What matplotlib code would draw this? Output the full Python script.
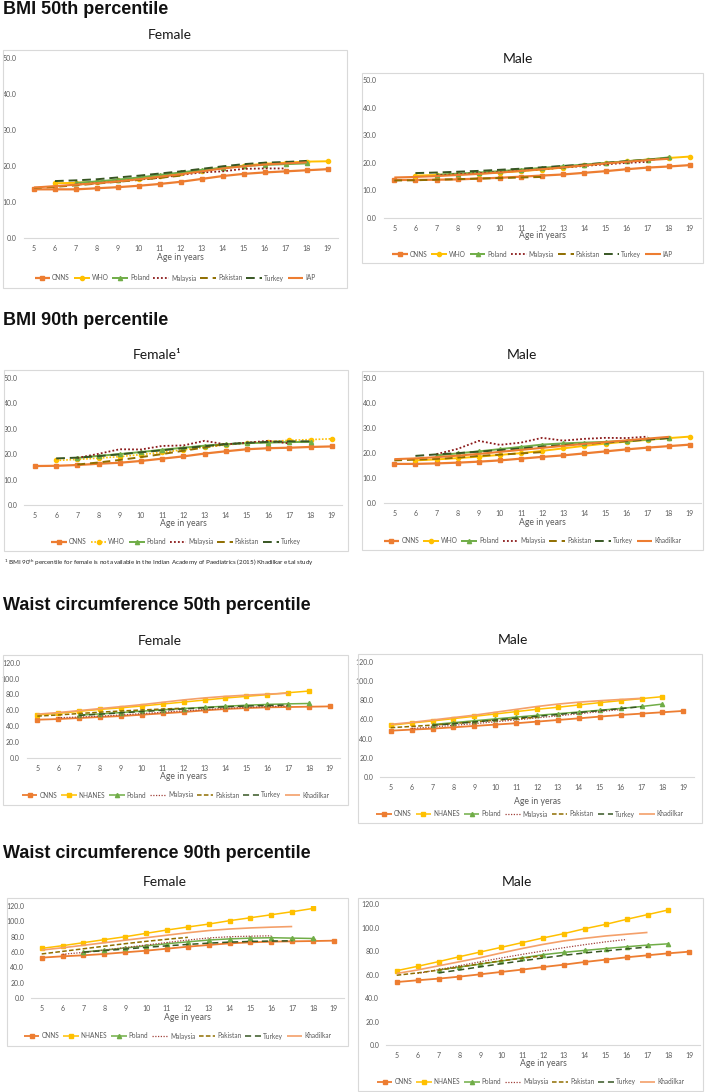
import numpy as np
import matplotlib
matplotlib.use("Agg")
import matplotlib.pyplot as plt
from matplotlib.patches import Rectangle

plt.rcParams['font.family'] = ['Lato', 'DejaVu Sans']
plt.rcParams['mathtext.fontset'] = 'custom'
plt.rcParams['mathtext.rm'] = 'Lato'

# ---------------- data ----------------
AGES = list(range(5, 20))
N = None

# BMI 50th percentile - Female
bmi50_f_cnns = [13.6, 13.6, 13.6, 13.9, 14.2, 14.6, 15.1, 15.7, 16.5, 17.3, 17.9, 18.3, 18.6, 18.9, 19.2]
bmi50_f_who = [N, 15.3, 15.4, 15.7, 16.1, 16.6, 17.2, 18.0, 18.8, 19.6, 20.2, 20.7, 21.0, 21.3, 21.4]
bmi50_f_poland = [N, N, 15.4, 15.8, 16.3, 16.9, 17.6, 18.3, 19.0, 19.6, 20.1, 20.4, 20.6, 20.8, N]
bmi50_f_malaysia = [N, N, 14.9, 15.3, 15.8, 16.3, 16.8, 17.6, 18.3, 18.6, 19.3, 19.4, 19.4, N, N]
bmi50_f_pakistan = [14.0, 14.3, 14.7, 15.2, 15.7, 16.2, 16.8, 17.4, N, N, N, N, N, N, N]
bmi50_f_turkey = [N, 15.9, 16.1, 16.4, 16.9, 17.4, 18.0, 18.6, 19.3, 20.0, 20.6, 21.0, 21.2, 21.5, N]
bmi50_f_iap = [14.1, 14.5, 14.9, 15.3, 15.8, 16.4, 17.1, 17.8, 18.6, 19.4, 20.0, 20.5, 20.8, 21.1, N]

# BMI 50th percentile - Male
bmi50_m_cnns = [13.7, 13.7, 13.8, 13.9, 14.2, 14.5, 14.9, 15.3, 15.7, 16.3, 16.9, 17.6, 18.2, 18.6, 19.1]
bmi50_m_who = [N, 15.3, 15.5, 15.7, 16.0, 16.4, 16.9, 17.5, 18.2, 19.0, 19.8, 20.5, 21.1, 21.7, 22.2]
bmi50_m_poland = [N, N, 15.6, 16.0, 16.4, 16.9, 17.5, 18.1, 18.7, 19.3, 19.9, 20.5, 21.1, 21.9, N]
bmi50_m_malaysia = [N, N, 15.4, 15.8, 16.2, 16.6, 17.1, 17.6, 18.2, 18.8, 19.4, 19.9, 20.3, N, N]
bmi50_m_pakistan = [13.5, 13.6, 13.8, 14.0, 14.2, 14.4, 14.6, 14.8, N, N, N, N, N, N, N]
bmi50_m_turkey = [N, 16.2, 16.4, 16.7, 17.0, 17.4, 17.8, 18.3, 18.8, 19.3, 19.9, 20.5, 21.0, 21.6, N]
bmi50_m_iap = [14.6, 14.8, 15.1, 15.5, 15.9, 16.4, 17.0, 17.6, 18.3, 19.0, 19.7, 20.3, 20.9, 21.4, N]

# BMI 90th percentile - Female
bmi90_f_cnns = [15.3, 15.4, 15.7, 16.2, 16.6, 17.3, 18.2, 19.1, 20.2, 21.1, 21.9, 22.3, 22.5, 22.8, 23.0]
bmi90_f_who = [N, 17.5, 17.9, 18.4, 19.0, 19.8, 20.7, 21.7, 22.7, 23.6, 24.3, 24.9, 25.4, 25.7, 26.0]
bmi90_f_poland = [N, N, 18.5, 19.3, 20.0, 20.8, 21.7, 22.5, 23.3, 23.9, 24.3, 24.5, 24.7, 24.8, N]
bmi90_f_malaysia = [N, N, 18.5, 20.1, 21.9, 21.8, 23.2, 23.4, 25.2, 23.8, 24.5, 25.2, 24.2, N, N]
bmi90_f_pakistan = [N, N, 15.9, 16.7, 17.7, 18.8, 20.0, 21.3, 22.6, 24.0, N, N, N, N, N]
bmi90_f_turkey = [N, 18.3, 18.6, 19.2, 19.9, 20.7, 21.5, 22.3, 23.1, 23.9, 24.4, 24.8, 25.0, 25.0, N]

# BMI 90th percentile - Male
bmi90_m_cnns = [15.6, 15.6, 15.8, 16.1, 16.5, 17.0, 17.7, 18.4, 19.0, 19.8, 20.6, 21.4, 22.1, 22.7, 23.3]
bmi90_m_who = [N, 17.0, 17.4, 17.9, 18.5, 19.2, 19.9, 20.8, 21.8, 22.8, 23.7, 24.5, 25.2, 25.9, 26.5]
bmi90_m_poland = [N, N, 19.0, 19.8, 20.6, 21.5, 22.4, 23.3, 23.8, 24.1, 24.4, 24.8, 25.4, 26.0, N]
bmi90_m_malaysia = [N, N, 19.5, 21.6, 24.8, 23.2, 24.1, 26.0, 24.9, 25.6, 26.0, 25.9, 26.5, N, N]
bmi90_m_pakistan = [17.0, 17.3, 17.6, 18.1, 18.8, 19.3, 19.8, 20.3, N, N, N, N, N, N, N]
bmi90_m_turkey = [N, 18.8, 19.4, 19.9, 20.5, 21.1, 21.8, 22.5, 23.1, 23.6, 24.1, 24.7, 25.3, 25.9, N]
bmi90_m_khadilkar = [17.5, 17.8, 18.3, 18.9, 19.6, 20.4, 21.2, 22.0, 22.8, 23.6, 24.3, 25.0, 25.7, 26.4, N]

# Waist circumference 50th percentile - Female
wc50_f_cnns = [48.0, 48.8, 50.1, 51.4, 52.6, 54.3, 56.0, 57.7, 59.8, 61.5, 62.7, 63.6, 64.0, 64.4, 64.8]
wc50_f_nhanes = [54.0, 56.0, 58.5, 61.0, 63.0, 65.3, 67.8, 70.3, 72.8, 75.4, 77.5, 79.6, 82.1, 84.2, N]
wc50_f_poland = [N, N, 53.7, 55.3, 57.0, 58.8, 60.5, 62.1, 63.7, 65.0, 66.3, 67.3, 68.0, 68.5, N]
wc50_f_malaysia = [N, 50.5, 51.3, 52.5, 54.0, 55.7, 57.4, 59.2, 60.8, 62.3, 63.5, 64.5, 65.3, N, N]
wc50_f_pakistan = [52.5, 54.0, 55.8, 57.5, 59.0, 60.3, 61.5, 62.5, N, N, N, N, N, N, N]
wc50_f_turkey = [N, N, 53.5, 55.0, 56.7, 58.3, 60.0, 61.6, 63.1, 64.3, 65.3, 66.0, 66.5, N, N]
wc50_f_khadilkar = [55.0, 57.0, 59.5, 62.0, 64.5, 67.0, 70.0, 73.0, 75.5, 77.5, 79.0, 80.3, 81.5, N, N]

# Waist circumference 50th percentile - Male
wc50_m_cnns = [48.4, 49.5, 50.5, 51.9, 53.3, 54.7, 56.1, 57.8, 59.5, 61.2, 63.0, 64.7, 66.1, 67.5, 68.9]
wc50_m_nhanes = [54.0, 56.4, 58.5, 60.9, 63.3, 65.7, 68.2, 70.6, 72.7, 75.1, 77.5, 79.6, 81.7, 83.7, N]
wc50_m_poland = [N, N, 54.8, 56.7, 58.7, 60.6, 62.5, 64.3, 66.0, 67.8, 69.6, 71.5, 73.5, 76.0, N]
wc50_m_malaysia = [N, 50.7, 52.2, 53.9, 55.7, 57.6, 59.6, 61.7, 63.8, 66.0, 68.2, 70.3, N, N, N]
wc50_m_pakistan = [51.5, 52.8, 54.2, 55.8, 57.5, 59.2, 60.8, 62.4, N, N, N, N, N, N, N]
wc50_m_turkey = [N, N, 53.9, 55.6, 57.5, 59.4, 61.4, 63.3, 65.2, 67.2, 69.2, 71.3, 73.3, N, N]
wc50_m_khadilkar = [55.0, 57.0, 59.5, 62.0, 64.5, 67.5, 70.5, 73.5, 76.0, 78.0, 79.5, 80.8, 82.0, N, N]

# Waist circumference 90th percentile - Female
wc90_f_cnns = [52.7, 54.4, 55.7, 57.4, 59.6, 61.7, 64.3, 66.9, 69.1, 71.2, 72.5, 73.4, 73.8, 74.2, 74.7]
wc90_f_nhanes = [64.7, 68.2, 72.1, 76.0, 79.8, 84.2, 88.5, 92.4, 96.2, 100.6, 104.4, 108.3, 112.2, 116.5, N]
wc90_f_poland = [N, N, 60.0, 62.5, 65.2, 68.0, 70.7, 73.2, 75.5, 77.0, 78.0, 78.5, 78.0, 77.5, N]
wc90_f_malaysia = [N, 57.0, 59.5, 62.5, 65.8, 69.0, 72.3, 75.5, 78.2, 79.8, 80.5, 81.0, N, N, N]
wc90_f_pakistan = [57.5, 60.8, 64.2, 67.5, 70.8, 73.8, 76.5, 79.0, N, N, N, N, N, N, N]
wc90_f_turkey = [N, N, 59.8, 61.8, 63.8, 66.0, 68.0, 69.8, 71.5, 72.8, 73.7, 74.2, 74.5, N, N]
wc90_f_khadilkar = [62.5, 65.5, 68.7, 72.0, 75.3, 78.5, 81.8, 85.0, 87.8, 89.8, 91.2, 92.2, 93.0, N, N]

# Waist circumference 90th percentile - Male
wc90_m_cnns = [53.7, 55.2, 56.6, 58.3, 60.3, 62.3, 64.3, 66.5, 68.5, 70.8, 72.8, 74.8, 76.5, 78.2, 79.6]
wc90_m_nhanes = [63.4, 67.1, 71.1, 75.3, 79.3, 83.3, 87.3, 91.3, 95.0, 99.2, 102.9, 107.2, 111.2, 115.2, N]
wc90_m_poland = [N, N, 64.0, 66.5, 69.0, 71.6, 74.3, 77.0, 79.0, 80.7, 82.3, 83.8, 85.2, 86.3, N]
wc90_m_malaysia = [N, 61.0, 64.3, 67.6, 71.0, 74.2, 77.3, 80.2, 83.0, 85.6, 88.0, 90.0, N, N, N]
wc90_m_pakistan = [59.5, 61.5, 63.8, 66.5, 69.3, 71.8, 74.0, 76.0, N, N, N, N, N, N, N]
wc90_m_turkey = [N, N, 61.5, 64.0, 66.7, 69.3, 71.8, 74.2, 76.5, 78.5, 80.3, 82.0, 83.5, N, N]
wc90_m_khadilkar = [61.0, 64.0, 67.5, 71.0, 74.5, 78.5, 82.3, 85.8, 88.8, 91.0, 93.0, 94.5, 96.0, N, N]

BMI_TICKS = [0, 10, 20, 30, 40, 50]
WC_TICKS = [0, 20, 40, 60, 80, 100, 120]

# ---------------- styles ----------------
ORANGE = '#ED7D31'
YELLOW = '#FFC000'
GREEN = '#70AD47'
MAL = '#8B1A1A'
PAK = '#8F6E00'
TUR = '#375623'


def style(name, kind):
    thin = kind == 'wc'
    lw = 1.1 if thin else 1.4
    if name == 'CNNS':
        return dict(color=ORANGE, lw=lw + 0.2, marker='s', ms=3.2)
    if name == 'WHO':
        return dict(color=YELLOW, lw=lw, marker='o', ms=3)
    if name == 'WHOdot':
        return dict(color=YELLOW, lw=1.2, marker='o', ms=3, ls=(0, (1, 1)))
    if name == 'NHANES':
        return dict(color=YELLOW, lw=lw, marker='s', ms=2.6)
    if name == 'Poland':
        return dict(color=GREEN, lw=lw, marker='^', ms=3)
    if name == 'Malaysia':
        return dict(color=MAL if not thin else '#A0403A', lw=1.3 if not thin else 0.9, ls=(0, (1, 1.2)))
    if name == 'Pakistan':
        return dict(color=PAK, lw=lw, ls=(0, (4, 2.5)) if not thin else (0, (3, 1.5)))
    if name == 'Turkey':
        return dict(color=TUR, lw=lw, ls=(0, (4.5, 2.5)) if not thin else (0, (4, 2.5)))
    if name in ('IAP', 'Khadilkar'):
        return dict(color=ORANGE if not thin else '#F4A06A', lw=lw + 0.1)
    return dict()


W, H = 709, 1092
fig = plt.figure(figsize=(W / 100, H / 100), dpi=100)


def fx(x):
    return x / W


def fy(y):
    return 1 - y / H


def panel(box, x5, x19, ytop, y0, ylim, ticks, title, title_xy, xlabel, xlabel_y, legend_y,
          series, kind):
    x0b, y0b, x1b, y1b = box
    fig.patches.append(Rectangle((fx(x0b), fy(y1b)), (x1b - x0b) / W, (y1b - y0b) / H,
                                 transform=fig.transFigure, fill=False,
                                 edgecolor='#D9D9D9', lw=0.8))
    sp = (x19 - x5) / 14.0
    left = x5 - sp / 2
    right = x19 + sp / 2
    ax = fig.add_axes([fx(left), fy(y0), (right - left) / W, (y0 - ytop) / H])
    ages = np.array(AGES)
    handles = []
    labels = []
    for name, stkey, vals in series:
        v = np.array([np.nan if a is None else a for a in vals], dtype=float)
        ln, = ax.plot(ages, v, solid_capstyle='butt', dash_capstyle='butt',
                      **style(stkey, kind))
        handles.append(ln)
        labels.append(name)
    ax.set_xlim(4.5, 19.5)
    ax.set_ylim(ylim)
    ax.set_xticks(AGES)
    ax.set_xticklabels([str(a) for a in AGES])
    ax.set_yticks(ticks)
    ax.set_yticklabels([f"{t:.1f}" for t in ticks])
    for s in ('top', 'right', 'left'):
        ax.spines[s].set_visible(False)
    ax.spines['bottom'].set_color('#D9D9D9')
    ax.spines['bottom'].set_linewidth(0.8)
    ax.spines['bottom'].set_zorder(0)
    ax.tick_params(length=0, labelsize=5, labelcolor='#595959')
    ax.tick_params(axis='x', pad=5)
    ax.tick_params(axis='y', pad=5)
    ax.patch.set_visible(False)
    fig.text(fx(title_xy[0]), fy(title_xy[1]), title, ha='center', va='center',
             fontsize=10, color='#1a1a1a')
    fig.text(fx((left + right) / 2), fy(xlabel_y), xlabel, ha='center', va='center',
             fontsize=6.2, color='#595959')
    ax.legend(handles, labels, loc='center', ncol=len(labels),
              bbox_to_anchor=(fx((x0b + x1b) / 2), fy(legend_y)),
              bbox_transform=fig.transFigure, frameon=False, fontsize=4.7,
              handlelength=2.4, handletextpad=0.3, columnspacing=0.6,
              numpoints=1, labelcolor='#595959', borderpad=0)
    return ax


# Section headings
for txt, y in [("BMI 50th percentile", 9), ("BMI 90th percentile", 320),
               ("Waist circumference 50th percentile", 606),
               ("Waist circumference 90th percentile", 853)]:
    fig.text(fx(3), fy(y), txt, ha='left', va='center', fontsize=13,
             fontweight='bold', family='Liberation Sans', color='#111111')

panel((3, 50, 347, 288), 34, 327.7, 58.3, 238.3, (0, 50), BMI_TICKS, "Female", (170, 35),
      "Age in years", 258, 278,
      [("CNNS", 'CNNS', bmi50_f_cnns), ("WHO", 'WHO', bmi50_f_who),
       ("Poland", 'Poland', bmi50_f_poland), ("Malaysia", 'Malaysia', bmi50_f_malaysia),
       ("Pakistan", 'Pakistan', bmi50_f_pakistan), ("Turkey", 'Turkey', bmi50_f_turkey),
       ("IAP", 'IAP', bmi50_f_iap)], 'bmi')

panel((362, 73, 703, 263), 394.3, 690, 80, 217.7, (0, 50), BMI_TICKS, "Male", (518, 59),
      "Age in years", 235.7, 254,
      [("CNNS", 'CNNS', bmi50_m_cnns), ("WHO", 'WHO', bmi50_m_who),
       ("Poland", 'Poland', bmi50_m_poland), ("Malaysia", 'Malaysia', bmi50_m_malaysia),
       ("Pakistan", 'Pakistan', bmi50_m_pakistan), ("Turkey", 'Turkey', bmi50_m_turkey),
       ("IAP", 'IAP', bmi50_m_iap)], 'bmi')

panel((4, 370, 348, 551), 35, 331.7, 377.7, 505, (0, 50), BMI_TICKS, "Female\u00b9", (157, 355),
      "Age in years", 523, 541.7,
      [("CNNS", 'CNNS', bmi90_f_cnns), ("WHO", 'WHOdot', bmi90_f_who),
       ("Poland", 'Poland', bmi90_f_poland), ("Malaysia", 'Malaysia', bmi90_f_malaysia),
       ("Pakistan", 'Pakistan', bmi90_f_pakistan), ("Turkey", 'Turkey', bmi90_f_turkey)], 'bmi')

panel((362, 371, 703, 550), 394.3, 690, 377.7, 503, (0, 50), BMI_TICKS, "Male", (522, 355),
      "Age in years", 522, 540.7,
      [("CNNS", 'CNNS', bmi90_m_cnns), ("WHO", 'WHO', bmi90_m_who),
       ("Poland", 'Poland', bmi90_m_poland), ("Malaysia", 'Malaysia', bmi90_m_malaysia),
       ("Pakistan", 'Pakistan', bmi90_m_pakistan), ("Turkey", 'Turkey', bmi90_m_turkey),
       ("Khadilkar", 'Khadilkar', bmi90_m_khadilkar)], 'bmi')

fig.text(fx(4), fy(563),
         r"$^{1}$ BMI 90$^{\mathrm{th}}$ percentile for female is not available in the Indian Academy of Paediatrics (2015) Khadilkar et.al study",
         ha='left', va='center', fontsize=4.5, color='#222222')

panel((3, 655, 348, 805), 37.3, 330, 662.7, 757.7, (0, 120), WC_TICKS, "Female", (160, 641),
      "Age in years", 776.7, 795,
      [("CNNS", 'CNNS', wc50_f_cnns), ("NHANES", 'NHANES', wc50_f_nhanes),
       ("Poland", 'Poland', wc50_f_poland), ("Malaysia", 'Malaysia', wc50_f_malaysia),
       ("Pakistan", 'Pakistan', wc50_f_pakistan), ("Turkey", 'Turkey', wc50_f_turkey),
       ("Khadilkar", 'Khadilkar', wc50_f_khadilkar)], 'wc')

panel((358, 654, 702, 823), 390.7, 683.3, 661.7, 777.3, (0, 120), WC_TICKS, "Male", (513, 640),
      "Age in yeras", 801, 814,
      [("CNNS", 'CNNS', wc50_m_cnns), ("NHANES", 'NHANES', wc50_m_nhanes),
       ("Poland", 'Poland', wc50_m_poland), ("Malaysia", 'Malaysia', wc50_m_malaysia),
       ("Pakistan", 'Pakistan', wc50_m_pakistan), ("Turkey", 'Turkey', wc50_m_turkey),
       ("Khadilkar", 'Khadilkar', wc50_m_khadilkar)], 'wc')

panel((7, 898, 348, 1046), 41.7, 334, 905.7, 998.3, (0, 120), WC_TICKS, "Female", (165, 882),
      "Age in years", 1017.7, 1036,
      [("CNNS", 'CNNS', wc90_f_cnns), ("NHANES", 'NHANES', wc90_f_nhanes),
       ("Poland", 'Poland', wc90_f_poland), ("Malaysia", 'Malaysia', wc90_f_malaysia),
       ("Pakistan", 'Pakistan', wc90_f_pakistan), ("Turkey", 'Turkey', wc90_f_turkey),
       ("Khadilkar", 'Khadilkar', wc90_f_khadilkar)], 'wc')

panel((358, 898, 703, 1091), 396.7, 689.3, 904.3, 1045, (0, 120), WC_TICKS, "Male", (517, 882),
      "Age in years", 1064, 1081.7,
      [("CNNS", 'CNNS', wc90_m_cnns), ("NHANES", 'NHANES', wc90_m_nhanes),
       ("Poland", 'Poland', wc90_m_poland), ("Malaysia", 'Malaysia', wc90_m_malaysia),
       ("Pakistan", 'Pakistan', wc90_m_pakistan), ("Turkey", 'Turkey', wc90_m_turkey),
       ("Khadilkar", 'Khadilkar', wc90_m_khadilkar)], 'wc')

fig.savefig("out.png", dpi=100, facecolor='white')
